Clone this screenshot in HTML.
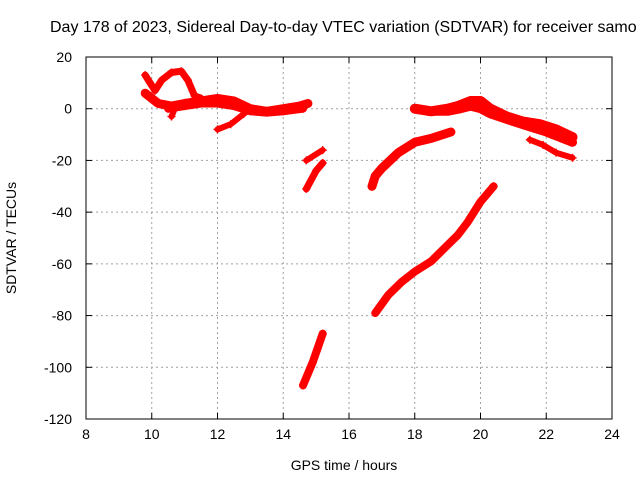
<!DOCTYPE html>
<html><head><meta charset="utf-8"><style>
body{margin:0;background:#fff;}
svg{display:block;font-family:"Liberation Sans",sans-serif;}
</style></head><body>
<svg id="chart" width="640" height="480" viewBox="0 0 640 480" xmlns="http://www.w3.org/2000/svg">
<rect x="0" y="0" width="640" height="480" fill="#fff"/>
<text x="50" y="32" font-size="16" fill="#000">Day 178 of 2023, Sidereal Day-to-day VTEC variation (SDTVAR) for receiver samo</text>
<g id="grid"></g>
<g id="series"></g>
<rect x="86" y="57" width="526" height="362" fill="none" stroke="#000" stroke-width="1"/>
<g id="axes"></g>
<text x="16" y="238" font-size="14" text-anchor="middle" transform="rotate(-90 16 238)">SDTVAR / TECUs</text>
<text x="344" y="470" font-size="14" text-anchor="middle">GPS time / hours</text>
</svg>
<script>
const xTicks = [8,10,12,14,16,18,20,22,24];
const yTicks = [20,0,-20,-40,-60,-80,-100,-120];
const trackLoop = [[9.8,13],[9.95,10],[10.1,7],[10.3,11],[10.6,14],[10.9,14.5],[11.1,11],[11.3,5],[11.5,4]];
const trackMain = [[9.8,6],[10.2,2],[10.6,1],[11,2],[11.5,3],[12,4],[12.5,3],[13,0],[13.5,-1],[14,0],[14.5,1],[14.75,2]];
const trackMain2 = [[10.5,0],[11,1],[11.5,2],[12,2],[12.5,1],[13,-1],[13.5,-1.5],[14,-1],[14.6,0]];
const trackDip = [[10.6,-3],[10.7,0],[10.8,1]];
const trackBranch = [[12,-8],[12.4,-6],[12.8,-2],[13,0]];
const trackB = [[14.7,-20],[15.2,-16]];
const trackC = [[14.7,-31],[15.0,-24],[15.2,-21]];
const trackD = [[14.6,-107],[14.9,-98],[15.2,-87]];
const trackE = [[16.7,-30],[16.8,-26],[17.0,-23],[17.5,-17],[18,-13],[18.5,-11.5],[19.1,-9]];
const trackF = [[16.8,-79],[17.2,-72],[17.6,-67],[18,-63],[18.5,-59],[18.9,-54],[19.3,-49],[19.6,-44],[20,-36],[20.4,-30]];
const trackG = [[18.0,0],[18.5,-1],[19,0],[19.3,1],[19.7,3],[20,3],[20.3,0],[20.8,-3],[21.3,-5],[21.8,-6],[22.3,-8],[22.8,-11]];
const trackG2 = [[18.4,-1],[19,-1],[19.4,0],[19.7,1],[20,0],[20.3,-2],[21,-5],[21.5,-7],[22,-9],[22.8,-13]];
const trackH = [[21.5,-12],[21.9,-14],[22.3,-17],[22.8,-19]];
const tracks = [trackLoop,trackMain,trackMain2,trackDip,trackBranch,trackB,trackC,trackD,trackE,trackF,trackG,trackG2,trackH];
const widths = [7,9,8,6,6,6,7,8,9,8,10,9,6];

const NS='http://www.w3.org/2000/svg';
const X0=86,X1=612,Y0=419,Y1=57;
function sx(h){return X0+(h-8)/(24-8)*(X1-X0);}
function sy(v){return Y0-(v+120)/(20+120)*(Y0-Y1);}
function mk(tag,attrs,parent){const e=document.createElementNS(NS,tag);for(const k in attrs)e.setAttribute(k,attrs[k]);parent.appendChild(e);return e;}
const grid=document.getElementById('grid'),axes=document.getElementById('axes'),ser=document.getElementById('series');
xTicks.forEach(t=>{
  const x=sx(t);
  if(t>8&&t<24){const l=mk('line',{x1:x,x2:x,y1:Y1,y2:Y0,stroke:'#a0a0a0','stroke-dasharray':'2,3'},grid);
  
  }
  mk('line',{x1:x,x2:x,y1:Y0,y2:Y0-6,stroke:'#000'},axes);
  mk('line',{x1:x,x2:x,y1:Y1,y2:Y1+6,stroke:'#000'},axes);
  const tx=mk('text',{x:x,y:Y0+20,'font-size':14,'text-anchor':'middle'},axes);
  tx.textContent=t;
  
  
});
yTicks.forEach(t=>{
  const y=sy(t);
  if(t<20&&t>-120){const l=mk('line',{x1:X0,x2:X1,y1:y,y2:y,stroke:'#a0a0a0','stroke-dasharray':'2,3'},grid);
  
  }
  mk('line',{x1:X0,x2:X0+6,y1:y,y2:y,stroke:'#000'},axes);
  mk('line',{x1:X1,x2:X1-6,y1:y,y2:y,stroke:'#000'},axes);
  const tx=mk('text',{x:X0-14,y:y+5,'font-size':14,'text-anchor':'end'},axes);
  tx.textContent=t;
  
  
});
tracks.forEach((tr,i)=>{
  const pts=tr.map(p=>sx(p[0]).toFixed(1)+','+sy(p[1]).toFixed(1)).join(' ');
  const pl=mk('polyline',{points:pts,fill:'none',stroke:'#ff0000','stroke-width':widths[i],'stroke-linejoin':'round','stroke-linecap':'round'},ser);
  
  
  tr.forEach(p=>{
    const x=sx(p[0]),y=sy(p[1]);
    const m=mk('path',{d:`M${x-4},${y}H${x+4}M${x},${y-4}V${y+4}`,stroke:'#ff0000','stroke-width':1.5},ser);
    
    
  });
});
</script>
</body></html>
